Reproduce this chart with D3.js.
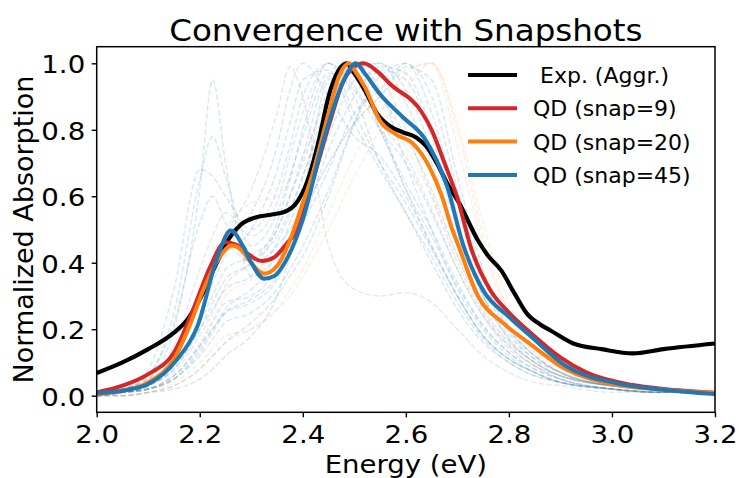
<!DOCTYPE html>
<html>
<head>
<meta charset="utf-8">
<script src="https://cdn.jsdelivr.net/npm/d3@7"></script>
<style>
  body { margin: 0; background: #fff; }
  svg text { font-family: "DejaVu Sans", sans-serif; fill: #000; }
</style>
</head>
<body>
<div id="chart"></div>
<script>
// experimental aggregate spectrum
var expE = [2.00, 2.05, 2.10, 2.15, 2.175, 2.20, 2.23, 2.26, 2.28, 2.31, 2.34, 2.37, 2.385, 2.41, 2.43, 2.45, 2.47, 2.485, 2.50, 2.52, 2.545, 2.57, 2.595, 2.62, 2.64, 2.66, 2.68, 2.705, 2.74, 2.76, 2.785, 2.81, 2.835, 2.86, 2.88, 2.925, 2.98, 3.04, 3.10, 3.20];
var expV = [0.068, 0.10, 0.14, 0.19, 0.227, 0.29, 0.39, 0.48, 0.515, 0.537, 0.545, 0.557, 0.575, 0.65, 0.76, 0.90, 0.98, 1.0, 0.97, 0.92, 0.847, 0.81, 0.792, 0.777, 0.75, 0.70, 0.64, 0.575, 0.467, 0.42, 0.377, 0.31, 0.247, 0.215, 0.197, 0.157, 0.14, 0.127, 0.14, 0.157];

// QD averages
var snap9E = [2.00, 2.05, 2.10, 2.15, 2.19, 2.22, 2.25, 2.27, 2.295, 2.32, 2.345, 2.37, 2.39, 2.42, 2.45, 2.48, 2.50, 2.518, 2.545, 2.57, 2.63, 2.65, 2.675, 2.70, 2.726, 2.764, 2.80, 2.845, 2.90, 2.95, 3.04, 3.10, 3.20];
var snap9V = [0.01, 0.03, 0.065, 0.13, 0.27, 0.387, 0.462, 0.455, 0.425, 0.405, 0.417, 0.46, 0.50, 0.65, 0.81, 0.95, 0.99, 1.0, 0.975, 0.937, 0.855, 0.80, 0.70, 0.595, 0.447, 0.317, 0.25, 0.185, 0.115, 0.07, 0.032, 0.02, 0.009];

var snap20E = [2.00, 2.05, 2.10, 2.15, 2.18, 2.21, 2.24, 2.262, 2.28, 2.30, 2.325, 2.35, 2.375, 2.40, 2.415, 2.45, 2.47, 2.49, 2.50, 2.52, 2.55, 2.58, 2.615, 2.645, 2.67, 2.69, 2.70, 2.74, 2.79, 2.84, 2.91, 3.00, 3.10, 3.20];
var snap20V = [0.005, 0.015, 0.04, 0.11, 0.21, 0.33, 0.42, 0.452, 0.44, 0.40, 0.367, 0.39, 0.467, 0.58, 0.647, 0.85, 0.96, 1.0, 0.98, 0.93, 0.827, 0.787, 0.757, 0.69, 0.60, 0.50, 0.46, 0.30, 0.217, 0.157, 0.08, 0.035, 0.018, 0.008];

var snap45E = [2.00, 2.05, 2.10, 2.155, 2.195, 2.235, 2.26, 2.285, 2.30, 2.325, 2.345, 2.365, 2.40, 2.44, 2.48, 2.503, 2.52, 2.55, 2.595, 2.635, 2.66, 2.68, 2.71, 2.75, 2.80, 2.845, 2.91, 3.01, 3.10, 3.20];
var snap45V = [0.008, 0.015, 0.035, 0.107, 0.207, 0.42, 0.497, 0.447, 0.40, 0.352, 0.36, 0.40, 0.53, 0.767, 0.95, 1.0, 0.97, 0.907, 0.837, 0.777, 0.707, 0.63, 0.46, 0.317, 0.237, 0.175, 0.09, 0.037, 0.018, 0.005];

// individual snapshot spectra (faint background), on a shared energy grid
var snapGrid = [2.00, 2.05, 2.10, 2.15, 2.20, 2.225, 2.25, 2.30, 2.35, 2.375, 2.40, 2.45, 2.50, 2.55, 2.60, 2.65, 2.70, 2.75, 2.80, 2.85, 2.90, 3.00, 3.10, 3.20];
var snapA = [0.01, 0.02, 0.05, 0.20, 0.62, 0.95, 0.70, 0.36, 0.42, 0.52, 0.62, 0.88, 1.00, 0.82, 0.62, 0.48, 0.33, 0.21, 0.13, 0.08, 0.05, 0.02, 0.01, 0.01];
var snapB = [0.01, 0.02, 0.06, 0.25, 0.65, 0.78, 0.66, 0.45, 0.55, 0.66, 0.78, 0.97, 0.92, 0.80, 0.70, 0.55, 0.38, 0.24, 0.15, 0.09, 0.06, 0.03, 0.02, 0.01];
var snapC = [0.00, 0.01, 0.03, 0.10, 0.28, 0.38, 0.48, 0.62, 0.85, 0.99, 0.90, 0.45, 0.32, 0.30, 0.31, 0.28, 0.20, 0.12, 0.07, 0.04, 0.03, 0.01, 0.01, 0.00];
var snapD = [0.01, 0.02, 0.04, 0.12, 0.30, 0.38, 0.45, 0.55, 0.75, 0.92, 1.00, 0.90, 0.78, 0.72, 0.60, 0.45, 0.30, 0.18, 0.11, 0.07, 0.04, 0.02, 0.01, 0.01];
var snapE = [0.01, 0.01, 0.03, 0.08, 0.20, 0.28, 0.35, 0.40, 0.52, 0.65, 0.80, 1.00, 0.90, 0.70, 0.55, 0.42, 0.28, 0.17, 0.10, 0.06, 0.04, 0.02, 0.01, 0.01];
var snapF = [0.00, 0.01, 0.02, 0.06, 0.15, 0.22, 0.28, 0.30, 0.38, 0.45, 0.55, 0.78, 0.95, 1.00, 0.88, 0.70, 0.48, 0.30, 0.18, 0.11, 0.07, 0.03, 0.02, 0.01];
var snapG = [0.00, 0.01, 0.02, 0.05, 0.12, 0.17, 0.22, 0.25, 0.32, 0.38, 0.45, 0.62, 0.82, 0.96, 1.00, 0.85, 0.58, 0.35, 0.20, 0.12, 0.07, 0.03, 0.02, 0.01];
var snapH = [0.00, 0.00, 0.01, 0.04, 0.10, 0.14, 0.18, 0.20, 0.26, 0.32, 0.38, 0.55, 0.72, 0.85, 0.97, 1.00, 0.75, 0.45, 0.24, 0.13, 0.08, 0.03, 0.02, 0.01];
var snapI = [0.01, 0.02, 0.04, 0.10, 0.22, 0.30, 0.38, 0.42, 0.50, 0.60, 0.70, 0.92, 1.00, 0.90, 0.78, 0.62, 0.42, 0.26, 0.16, 0.10, 0.06, 0.03, 0.02, 0.01];
var snapJ = [0.01, 0.02, 0.05, 0.15, 0.38, 0.48, 0.55, 0.48, 0.58, 0.72, 0.85, 1.00, 0.93, 0.82, 0.72, 0.56, 0.38, 0.24, 0.14, 0.09, 0.05, 0.02, 0.01, 0.01];
var snapK = [0.00, 0.01, 0.02, 0.05, 0.14, 0.20, 0.26, 0.32, 0.40, 0.46, 0.52, 0.68, 0.85, 0.92, 1.00, 0.90, 0.62, 0.36, 0.20, 0.12, 0.07, 0.03, 0.02, 0.01];
var snapL = [0.00, 0.01, 0.02, 0.06, 0.15, 0.20, 0.25, 0.28, 0.35, 0.44, 0.55, 0.85, 1.00, 0.92, 0.70, 0.50, 0.32, 0.20, 0.12, 0.07, 0.04, 0.02, 0.01, 0.01];
var snapM = [0.00, 0.00, 0.01, 0.03, 0.08, 0.12, 0.16, 0.22, 0.30, 0.36, 0.42, 0.60, 0.82, 0.98, 0.95, 0.78, 0.52, 0.30, 0.17, 0.10, 0.06, 0.03, 0.02, 0.01];
var snapN = [0.01, 0.02, 0.05, 0.14, 0.32, 0.42, 0.50, 0.58, 0.60, 0.65, 0.72, 0.90, 1.00, 0.88, 0.75, 0.60, 0.42, 0.27, 0.16, 0.10, 0.06, 0.03, 0.02, 0.01];
var snapO = [0.00, 0.01, 0.02, 0.06, 0.16, 0.23, 0.30, 0.35, 0.42, 0.48, 0.55, 0.70, 0.82, 0.90, 0.98, 1.00, 0.82, 0.52, 0.28, 0.15, 0.09, 0.04, 0.02, 0.01];
var snapP = [0.01, 0.02, 0.08, 0.32, 0.68, 0.66, 0.60, 0.50, 0.62, 0.75, 0.90, 1.00, 0.85, 0.70, 0.58, 0.44, 0.30, 0.18, 0.11, 0.07, 0.04, 0.02, 0.01, 0.01];
var snapQ = [0.00, 0.01, 0.03, 0.08, 0.20, 0.26, 0.32, 0.36, 0.46, 0.55, 0.66, 0.88, 0.98, 1.00, 0.92, 0.74, 0.50, 0.30, 0.17, 0.10, 0.06, 0.03, 0.02, 0.01];
var snapR = [0.00, 0.00, 0.01, 0.02, 0.05, 0.08, 0.12, 0.18, 0.30, 0.42, 0.60, 0.95, 0.98, 0.80, 0.62, 0.45, 0.30, 0.18, 0.11, 0.07, 0.04, 0.02, 0.01, 0.01];
var snapS = [0.00, 0.01, 0.03, 0.10, 0.28, 0.38, 0.45, 0.40, 0.45, 0.50, 0.56, 0.70, 0.82, 0.90, 0.99, 0.95, 0.66, 0.38, 0.21, 0.12, 0.07, 0.03, 0.02, 0.01];
var snapT = [0.01, 0.01, 0.02, 0.07, 0.18, 0.25, 0.33, 0.40, 0.48, 0.56, 0.66, 0.86, 1.00, 0.96, 0.80, 0.60, 0.40, 0.25, 0.15, 0.09, 0.05, 0.02, 0.01, 0.01];
var snapU = [0.00, 0.01, 0.03, 0.09, 0.24, 0.34, 0.42, 0.50, 0.68, 0.82, 0.95, 0.98, 0.82, 0.68, 0.55, 0.40, 0.26, 0.16, 0.10, 0.06, 0.04, 0.02, 0.01, 0.01];
var snapV = [0.00, 0.01, 0.02, 0.05, 0.13, 0.19, 0.25, 0.29, 0.36, 0.44, 0.52, 0.74, 0.90, 0.99, 0.97, 0.80, 0.55, 0.33, 0.19, 0.11, 0.07, 0.03, 0.02, 0.01];
var snapW = [0.00, 0.00, 0.01, 0.03, 0.08, 0.12, 0.16, 0.20, 0.26, 0.30, 0.36, 0.50, 0.66, 0.80, 0.92, 1.00, 0.80, 0.48, 0.25, 0.13, 0.07, 0.03, 0.02, 0.01];
var snapX = [0.01, 0.02, 0.06, 0.22, 0.52, 0.60, 0.52, 0.40, 0.50, 0.60, 0.72, 0.96, 0.97, 0.80, 0.64, 0.50, 0.34, 0.21, 0.13, 0.08, 0.05, 0.02, 0.01, 0.01];

var xTicks = [2.0, 2.2, 2.4, 2.6, 2.8, 3.0, 3.2];
var yTicks = [0.0, 0.2, 0.4, 0.6, 0.8, 1.0];

var width = 739, height = 478;
var margin = {top: 46.7, right: 24, bottom: 65.7, left: 96.7};

var svg = d3.select("#chart").append("svg")
    .attr("width", width).attr("height", height);

var x = d3.scaleLinear().domain([2.0, 3.2]).range([margin.left, width - margin.right]);
var y = d3.scaleLinear().domain([-0.05, 1.05]).range([height - margin.bottom, margin.top]);

svg.append("clipPath").attr("id", "plotclip")
  .append("rect")
    .attr("x", margin.left).attr("y", margin.top)
    .attr("width", width - margin.left - margin.right)
    .attr("height", height - margin.top - margin.bottom);

var plot = svg.append("g").attr("clip-path", "url(#plotclip)");

function pairs(xs, ys) { return xs.map(function(d, i) { return [d, ys[i]]; }); }

var line = d3.line()
    .x(function(d) { return x(d[0]); })
    .y(function(d) { return y(d[1]); })
    .curve(d3.curveMonotoneX);

// faint snapshot spectra
var blue = "#1f77b4", orange = "#ff7f0e", grey = "#7f7f7f";
var background = [
  {v: snapA, c: blue}, {v: snapB, c: blue}, {v: snapC, c: grey},
  {v: snapD, c: blue}, {v: snapE, c: blue}, {v: snapF, c: blue},
  {v: snapG, c: blue}, {v: snapH, c: orange}, {v: snapI, c: blue},
  {v: snapJ, c: grey}, {v: snapK, c: blue}, {v: snapL, c: blue},
  {v: snapM, c: blue}, {v: snapN, c: orange}, {v: snapO, c: orange},
  {v: snapP, c: blue}, {v: snapQ, c: blue}, {v: snapR, c: blue},
  {v: snapS, c: blue}, {v: snapT, c: grey}, {v: snapU, c: blue},
  {v: snapV, c: blue}, {v: snapW, c: orange}, {v: snapX, c: blue}
];

plot.selectAll(".snap").data(background).enter()
  .append("path")
    .attr("class", "snap")
    .attr("d", function(d) { return line(pairs(snapGrid, d.v)); })
    .attr("fill", "none")
    .attr("stroke", function(d) { return d.c; })
    .attr("stroke-opacity", function(d) { return d.c == orange ? 0.12 : 0.17; })
    .attr("stroke-width", 1.5)
    .attr("stroke-dasharray", "5.5,2.4");

var series = [
  {name: " Exp. (Aggr.)", e: expE, v: expV, c: "#000000", w: 4.2},
  {name: "QD (snap=9)", e: snap9E, v: snap9V, c: "#d62728", w: 4},
  {name: "QD (snap=20)", e: snap20E, v: snap20V, c: "#ff7f0e", w: 4},
  {name: "QD (snap=45)", e: snap45E, v: snap45V, c: "#1f77b4", w: 4}
];

plot.selectAll(".main").data(series).enter()
  .append("path")
    .attr("class", "main")
    .attr("d", function(d) { return line(pairs(d.e, d.v)); })
    .attr("fill", "none")
    .attr("stroke", function(d) { return d.c; })
    .attr("stroke-width", function(d) { return d.w; })
    .attr("stroke-linejoin", "round");

// axes
var xAxis = svg.append("g")
    .attr("transform", "translate(0," + (height - margin.bottom) + ")")
    .call(d3.axisBottom(x).tickValues(xTicks).tickFormat(d3.format(".1f")).tickSize(5).tickPadding(5));
var yAxis = svg.append("g")
    .attr("transform", "translate(" + margin.left + ",0)")
    .call(d3.axisLeft(y).tickValues(yTicks).tickFormat(d3.format(".1f")).tickSize(5).tickPadding(5));

[xAxis, yAxis].forEach(function(a) {
  a.select(".domain").remove();
  a.selectAll(".tick line").attr("stroke", "#000").attr("stroke-width", 1.4);
  a.selectAll(".tick text")
    .attr("font-size", 24).attr("font-family", "DejaVu Sans")
    .attr("transform", "scale(1.15,1)");
});
xAxis.selectAll(".tick text").attr("dy", "0.86em");
yAxis.selectAll(".tick text").attr("dy", "0.4em");

svg.append("rect")
    .attr("x", margin.left).attr("y", margin.top)
    .attr("width", width - margin.left - margin.right)
    .attr("height", height - margin.top - margin.bottom)
    .attr("fill", "none").attr("stroke", "#000").attr("stroke-width", 1.5);

// labels
var midX = (margin.left + width - margin.right) / 2;
svg.append("text")
    .attr("transform", "translate(" + midX + ",41) scale(1.05,1)")
    .attr("text-anchor", "middle").attr("font-size", 31)
    .text("Convergence with Snapshots");

svg.append("text")
    .attr("transform", "translate(" + midX + ",473) scale(1.08,1)")
    .attr("text-anchor", "middle").attr("font-size", 25.5)
    .text("Energy (eV)");

svg.append("text")
    .attr("transform", "translate(33," + ((margin.top + height - margin.bottom) / 2) + ") rotate(-90)")
    .attr("text-anchor", "middle").attr("font-size", 27)
    .text("Normalized Absorption");

// legend
var legend = svg.append("g").attr("transform", "translate(468,75)");
var item = legend.selectAll(".item").data(series).enter()
  .append("g")
    .attr("transform", function(d, i) { return "translate(0," + (i * 33.3) + ")"; });
item.append("line")
    .attr("x1", 0).attr("x2", 49).attr("y1", 0).attr("y2", 0)
    .attr("stroke", function(d) { return d.c; })
    .attr("stroke-width", function(d) { return d.w; });
item.append("text")
    .attr("x", 65).attr("y", 0).attr("dy", "0.36em")
    .attr("font-size", 22)
    .style("white-space", "pre")
    .text(function(d) { return d.name; });
</script>
</body>
</html>
